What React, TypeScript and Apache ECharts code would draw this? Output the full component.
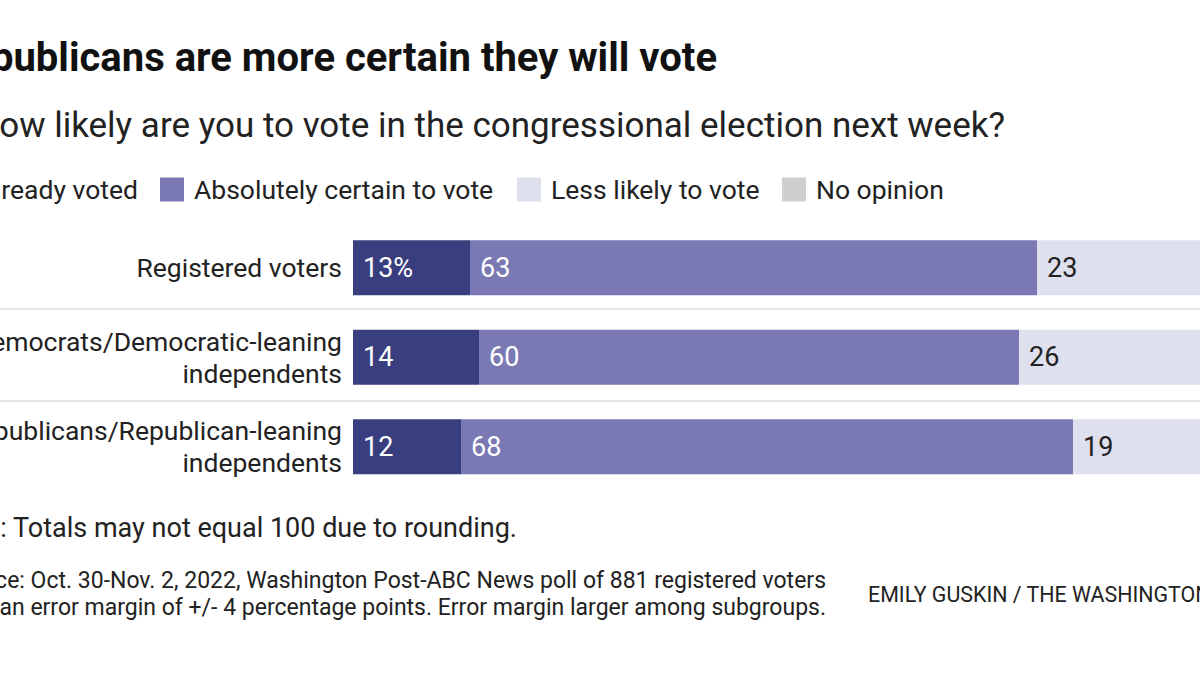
import React, { useEffect, useRef } from "react";
import * as echarts from "echarts";

const categories = [
  "Registered voters",
  "Democrats/Democratic-leaning\nindependents",
  "Republicans/Republican-leaning\nindependents",
];
const seriesNames = [
  "Already voted",
  "Absolutely certain to vote",
  "Less likely to vote",
  "No opinion",
];
const alreadyVoted = [13, 14, 12];
const absolutelyCertain = [63, 60, 68];
const lessLikely = [23, 26, 19];
const noOpinion = [1, 0, 1];
const colors = ["#393e7e", "#7a79b4", "#dfe0ed", "#cfcfcf"];

const title = "Republicans are more certain they will vote";
const subtitle = "How likely are you to vote in the congressional election next week?";
const note = "Note: Totals may not equal 100 due to rounding.";
const source1 = "Source: Oct. 30-Nov. 2, 2022, Washington Post-ABC News poll of 881 registered voters";
const source2 = "with an error margin of +/- 4 percentage points. Error margin larger among subgroups.";
const credit = "EMILY GUSKIN / THE WASHINGTON POST";

const FONT = "Roboto, 'Liberation Sans', sans-serif";
const TEXT = "#222222";

export default function App() {
  const ref = useRef<HTMLDivElement>(null);
  useEffect(() => {
    document.body.style.margin = "0";
    if (!ref.current) return;
    const chart = echarts.init(ref.current, undefined, { renderer: "svg" });
    const values = [alreadyVoted, absolutelyCertain, lessLikely, noOpinion];
    const txt = (text: string, x: number, y: number, size: number, align: string, weight = "normal", color = TEXT) => ({
      type: "text",
      silent: true,
      style: {
        text,
        x,
        y,
        fill: color,
        fontSize: size,
        fontWeight: weight,
        fontFamily: FONT,
        textAlign: align,
        textVerticalAlign: "middle",
        align,
        verticalAlign: "middle",
      },
    });
    const legendBase = {
      top: 176,
      padding: 0,
      itemWidth: 24,
      itemHeight: 24,
      icon: "rect",
      selectedMode: false,
      textStyle: { fontSize: 26.5, color: TEXT, fontFamily: FONT, padding: [0, 0, 0, 5] },
    };
    chart.setOption({
      animation: false,
      backgroundColor: "#ffffff",
      textStyle: { fontFamily: FONT },
      legend: [
        { ...legendBase, data: [seriesNames[0]], right: 1200 - 138 },
        { ...legendBase, data: [seriesNames[1]], left: 160 },
        { ...legendBase, data: [seriesNames[2]], left: 517 },
        { ...legendBase, data: [seriesNames[3]], left: 782 },
      ],
      grid: { left: 353, right: -53, top: 223, height: 268.5, containLabel: false, outerBoundsMode: "none" },
      xAxis: { type: "value", min: 0, max: 100, show: false },
      yAxis: {
        type: "category",
        data: categories,
        inverse: true,
        axisLine: { show: false },
        axisTick: { show: false },
        splitLine: { show: false },
        axisLabel: { margin: 11, fontSize: 26.5, color: TEXT, fontFamily: FONT, lineHeight: 32, align: "right" },
      },
      graphic: [
        txt(title, 717, 57, 40, "right", "bold", "#111111"),
        txt(subtitle, 1005, 125, 35, "right"),
        txt(note, 517, 528, 27, "right"),
        txt(source1, 826, 580, 23, "right"),
        txt(source2, 826, 607, 23, "right"),
        txt(credit, 868, 594, 21.4, "left"),
        { type: "line", silent: true, shape: { x1: 0, y1: 309, x2: 1200, y2: 309 }, style: { stroke: "#e4e4e4", lineWidth: 2 } },
        { type: "line", silent: true, shape: { x1: 0, y1: 401, x2: 1200, y2: 401 }, style: { stroke: "#e4e4e4", lineWidth: 2 } },
      ],
      series: seriesNames.map((name, i) => ({
        name,
        type: "bar",
        stack: "total",
        barWidth: 55,
        data: values[i],
        itemStyle: { color: colors[i] },
        label: {
          show: i < 3,
          position: "insideLeft",
          distance: 10,
          fontSize: 27,
          fontFamily: FONT,
          color: i < 2 ? "#ffffff" : TEXT,
          formatter: (p: any) => (i === 0 && p.dataIndex === 0 ? `${p.value}%` : `${p.value}`),
        },
      })),
    });
    return () => chart.dispose();
  }, []);
  return <div ref={ref} style={{ width: 1200, height: 675 }} />;
}
